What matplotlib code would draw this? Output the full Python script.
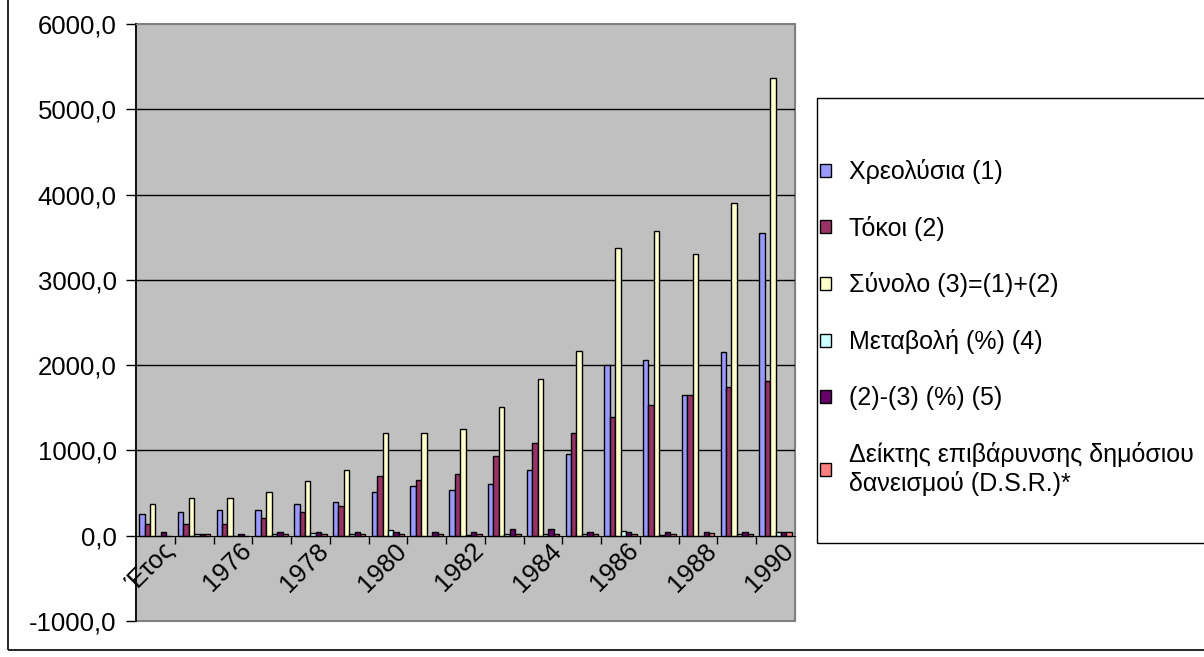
import numpy as np
import matplotlib
matplotlib.use("Agg")
import matplotlib.pyplot as plt
import matplotlib.transforms as mtransforms
from matplotlib.patches import Rectangle

plt.rcParams['font.family'] = ['Liberation Sans', 'DejaVu Sans']

# categories (first one is the header cell of the sheet)
years = ['Έτος'] + [str(y) for y in range(1975, 1991)]

# values
xreolysia = [252, 275, 299, 299, 373, 396, 510, 580, 533, 604, 768, 955, 1999, 2065, 1651, 2159, 3555]
tokoi = [133, 135, 135, 207, 275, 346, 696, 649, 721, 932, 1092, 1210, 1393, 1534, 1651, 1745, 1811]
synolo = [369, 440, 440, 508, 647, 766, 1207, 1207, 1255, 1510, 1838, 2163, 3372, 3578, 3304, 3902, 5372]
metavoli = [0, 19, 0, 15, 27, 18, 62, 0, 4, 20, 22, 18, 50, 6, -8, 18, 40]
diafora = [45, 22, 22, 45, 45, 45, 45, 45, 45, 73, 73, 45, 45, 45, 45, 45, 45]
dsr = [0, 20, 0, 15, 15, 15, 21, 21, 18, 18, 18, 18, 18, 20, 29, 20, 45]

series = [xreolysia, tokoi, synolo, metavoli, diafora, dsr]
labels = ['Χρεολύσια (1)', 'Τόκοι (2)', 'Σύνολο (3)=(1)+(2)', 'Μεταβολή (%) (4)',
          '(2)-(3) (%) (5)', 'Δείκτης επιβάρυνσης δημόσιου\nδανεισμού (D.S.R.)*']
colors = ['#9999FF', '#993366', '#FFFFCC', '#CCFFFF', '#660066', '#FF8080']

FS = 18.5
W, H = 1204, 657
fig = plt.figure(figsize=(W / 100, H / 100), dpi=100)
ax = fig.add_axes([136 / W, 1 - 621 / H, (795 - 136) / W, (621 - 24) / H])
ax.set_facecolor('#C0C0C0')

# x axis crosses at 0 (do this before styling the ticks, it resets them)
for s in ['top', 'right']:
    ax.spines[s].set_color('#808080')
ax.spines['bottom'].set_position(('data', 0))
ax.spines['bottom'].set_zorder(4)
ax.spines['left'].set_linewidth(1.2)
ax.add_patch(Rectangle((0, 0), 1, 1, transform=ax.transAxes, fill=False,
                       edgecolor='#808080', linewidth=1.5, clip_on=False, zorder=0))

x = np.arange(len(years))
bw = 0.14
bars = []
for k, (vals, c) in enumerate(zip(series, colors)):
    b = ax.bar(x + (k - 2.5) * bw, vals, bw, color=c, edgecolor='black', linewidth=1.0, zorder=3)
    bars.append(b)

ax.set_xlim(-0.5, len(years) - 0.5)
ax.set_ylim(-1000, 6000)
yt = np.arange(-1000, 6001, 1000)
ax.set_yticks(yt)
ax.set_yticklabels([f'{v:.1f}'.replace('.', ',') for v in yt])
for v in yt[2:-1]:
    ax.axhline(v, color='black', linewidth=1.0, zorder=1)

ax.set_xticks(x[::2])
ax.set_xticklabels(years[::2], rotation=45, ha='right', va='top', rotation_mode='anchor')
ax.set_xticks(x[:-1] + 0.5, minor=True)
ax.tick_params(axis='x', which='major', length=0, pad=2, labelsize=FS)
ax.tick_params(axis='x', which='minor', length=6, width=1.0, direction='out')
ax.tick_params(axis='y', length=7, width=1.0, labelsize=FS, pad=7)
shift = mtransforms.ScaledTranslation(6 / 100, 0, fig.dpi_scale_trans)
for lbl in ax.get_xticklabels():
    lbl.set_transform(lbl.get_transform() + shift)

leg = fig.legend([b[0] for b in bars], labels, loc='upper left',
                 bbox_to_anchor=(820 / W, 1 - 159 / H), frameon=False,
                 fontsize=18, handlelength=0.43, handleheight=0.43,
                 handletextpad=0.72, labelspacing=1.27, borderpad=0, borderaxespad=0)
fig.patches.append(Rectangle((817 / W, 1 - 543 / H), 400 / W, 445 / H,
                             transform=fig.transFigure, fill=False,
                             edgecolor='black', linewidth=1.0))
# chart area border
fig.patches.append(Rectangle((8 / W, 1 - 650 / H), 1.2, 1.2,
                             transform=fig.transFigure, fill=False,
                             edgecolor='black', linewidth=1.2))

fig.savefig('out.png', dpi=100)
